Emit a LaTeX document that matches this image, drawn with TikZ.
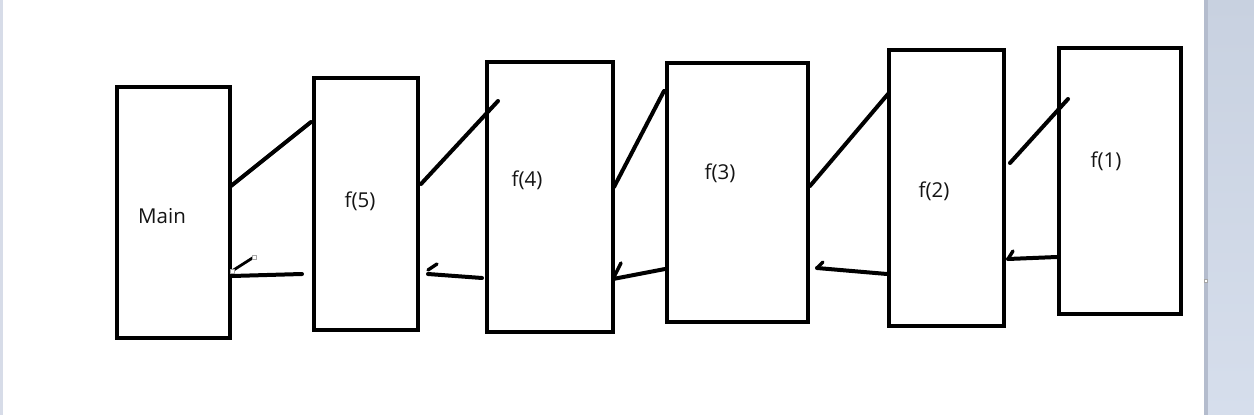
\documentclass[tikz,border=0pt]{standalone}
\usepackage{fontspec}
\setmainfont{Open Sans}
\definecolor{chrometop}{RGB}{200,209,224}
\definecolor{chromebot}{RGB}{214,222,236}
\definecolor{chromeedge}{RGB}{180,188,205}
\definecolor{leftedge}{RGB}{215,220,232}
\definecolor{txt}{RGB}{20,20,20}
\begin{document}
\begin{tikzpicture}[x=1pt,y=-1pt,
  box/.style={draw=black,line width=4pt,minimum width=#1,inner sep=0pt,anchor=center},
  lbl/.style={font=\fontsize{20.5}{24}\selectfont,text=txt,inner sep=0pt,anchor=center},
  stroke/.style={line width=4pt,line cap=round},
  hook/.style={line width=3.4pt,line cap=round},
  handle/.style={draw=gray!70,fill=white,line width=0.6pt,minimum size=4pt,inner sep=0pt}]
\useasboundingbox (0,0) rectangle (1254,415);
\fill[white] (0,0) rectangle (1254,415);
% window chrome
\shade[top color=chrometop, bottom color=chromebot] (1204,0) rectangle (1254,415);
\fill[chromeedge] (1204,0) rectangle (1208,415);
\fill[leftedge] (0,0) rectangle (3,415);
% boxes
\node[box=113pt,minimum height=251pt] (main) at (173.5,212.5) {};
\node[box=104pt,minimum height=252pt] (f5) at (366,204) {};
\node[box=126pt,minimum height=270pt] (f4) at (550,197) {};
\node[box=141pt,minimum height=259pt] (f3) at (737.5,192.5) {};
\node[box=115pt,minimum height=276pt] (f2) at (946.5,188) {};
\node[box=122pt,minimum height=266pt] (f1) at (1120,181) {};
% labels
\node[lbl] (tmain) at (162,216) {Main};
\node[lbl] (t5) at (360,201) {f(5)};
\node[lbl] (t4) at (527,180) {f(4)};
\node[lbl] (t3) at (720,173) {f(3)};
\node[lbl] (t2) at (934,191) {f(2)};
\node[lbl] (t1) at (1106,161) {f(1)};
% calls (forward strokes)
\coordinate (a0) at (231,186); \coordinate (a1) at (311,122);
\coordinate (b0) at (421,184); \coordinate (b1) at (498,101);
\coordinate (c0) at (614,187); \coordinate (c1) at (664,91);
\coordinate (d0) at (810,186); \coordinate (d1) at (888,94);
\coordinate (e0) at (1010,163); \coordinate (e1) at (1068,99);
\draw[stroke] (a0) -- (a1);
\draw[stroke] (b0) -- (b1);
\draw[stroke] (c0) -- (c1);
\draw[stroke] (d0) -- (d1);
\draw[stroke] (e0) -- (e1);
% returns
\coordinate (r5s) at (302,274); \coordinate (r5e) at (232,276);
\coordinate (h5a) at (232,271); \coordinate (h5b) at (254,257);
\draw[stroke] (r5s) -- (r5e);
\draw[line width=2.8pt] (h5a) -- (h5b);
\node[handle] (hs1) at (h5a) {};
\node[handle] (hs2) at (h5b) {};
\coordinate (r4s) at (482,278); \coordinate (r4e) at (428,274);
\coordinate (h4a) at (428,270); \coordinate (h4) at (437,264);
\draw[stroke] (r4s) -- (r4e);
\draw[hook] (h4a) -- (h4);
\coordinate (r3s) at (665,269); \coordinate (r3e) at (613,279);
\coordinate (h3) at (621,263);
\draw[stroke] (r3s) -- (r3e);
\draw[hook] (r3e) -- (h3);
\coordinate (r2s) at (887,274); \coordinate (r2e) at (817,268);
\coordinate (h2) at (823,262);
\draw[stroke] (r2s) -- (r2e);
\draw[hook] (r2e) -- (h2);
\coordinate (r1s) at (1057,257); \coordinate (r1e) at (1008,259);
\coordinate (h1) at (1013,251);
\draw[stroke] (r1s) -- (r1e);
\draw[hook] (r1e) -- (h1);
\node[handle,minimum size=3.5pt] (hs3) at (1206,281) {};
\end{tikzpicture}
\end{document}
